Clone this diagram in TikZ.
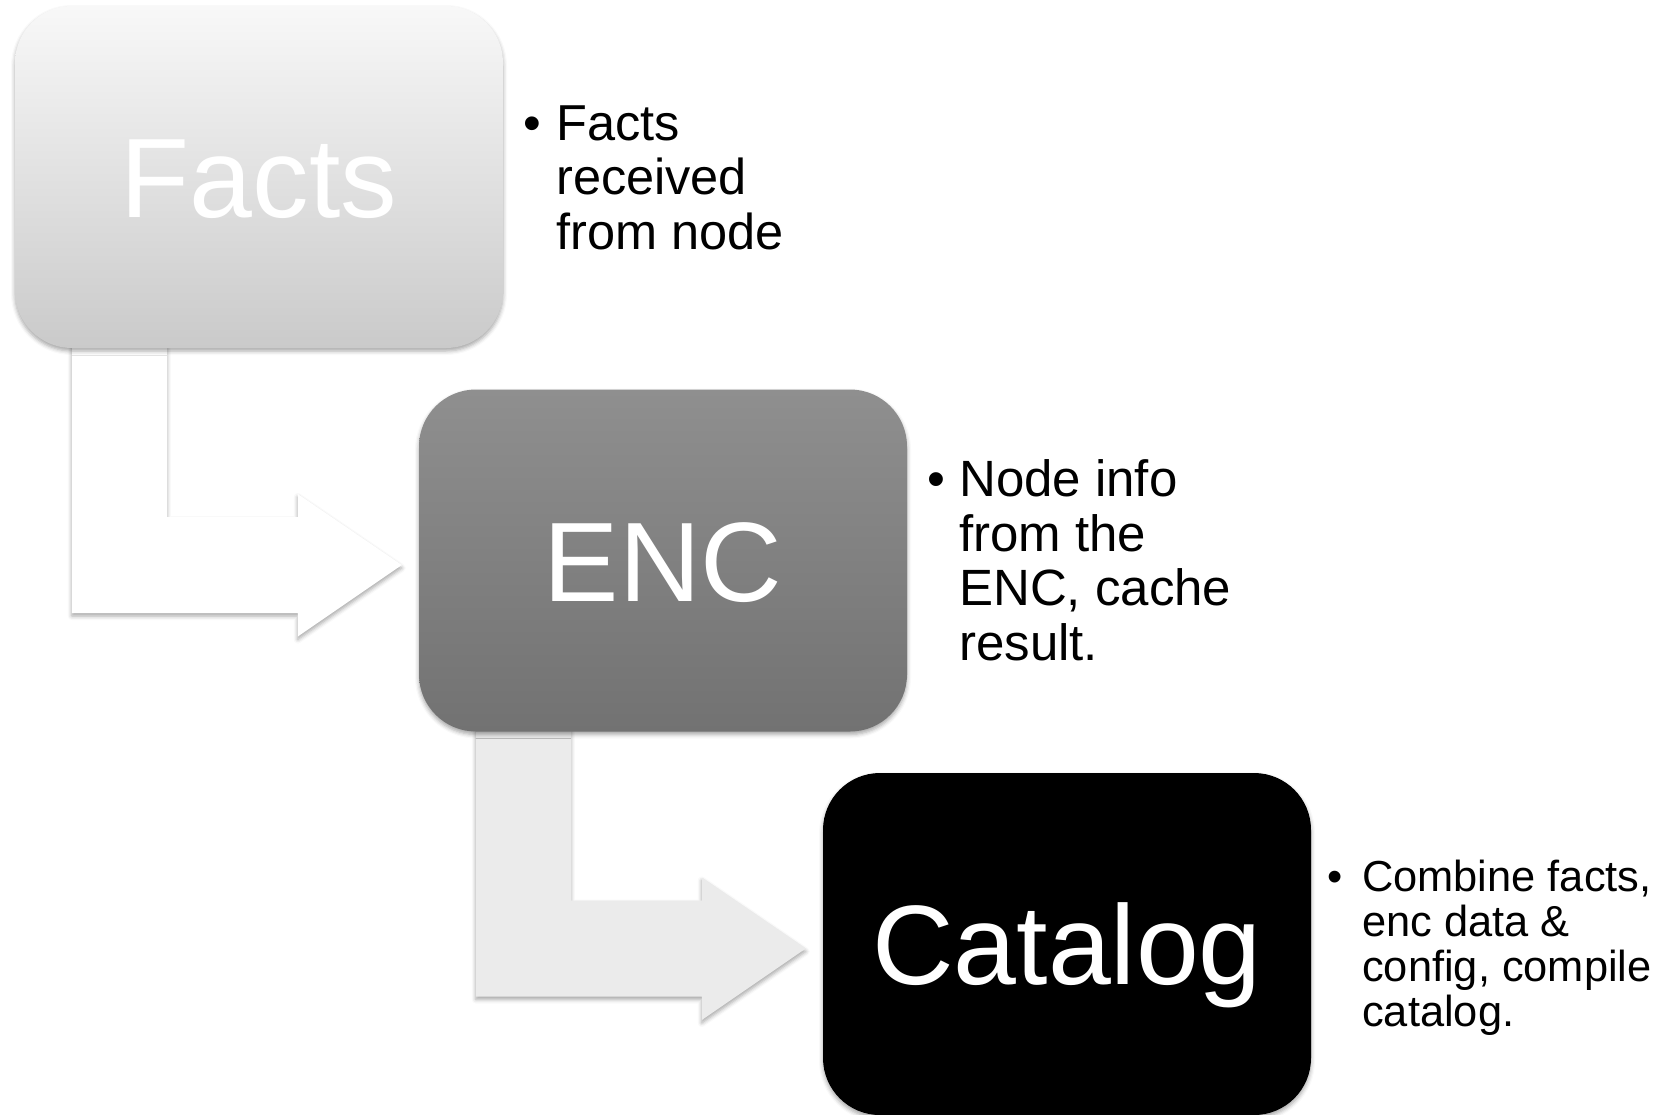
\documentclass[tikz,border=0pt]{standalone}
\usepackage{fontspec}
\setmainfont{Liberation Sans}
\usetikzlibrary{calc,shadows.blur}

\definecolor{factsTop}{HTML}{F8F8F8}
\definecolor{factsBot}{HTML}{CACACA}
\definecolor{encTop}{HTML}{8F8F8F}
\definecolor{encBot}{HTML}{727272}
\definecolor{flowGrey}{HTML}{EBEBEB}

\pgfdeclarelayer{background}
\pgfsetlayers{background,main}

\tikzset{
  softshadow/.style={blur shadow={shadow xshift=0pt, shadow yshift=-3pt,
      shadow blur radius=4pt, shadow opacity=35}},
  stage/.style={rectangle, rounded corners=57pt, minimum width=488pt,
      minimum height=342pt, inner sep=0pt, text=white,
      font=\fontsize{113}{113}\selectfont, text height=81pt, text depth=0pt,
      softshadow},
  note/.style={anchor=base west, inner sep=0pt, text=black},
  flow/.style={softshadow},
}

% bent block arrow: leaves from under #1, turns right and points at #2
\newcommand\bentflow[3]{%
  \coordinate (#1-stem) at ($(#1.south west)+(57,-50)$);
  \coordinate (#2-tip) at ($(#2.west)+(-17,4.5)$);
  \path[flow,#3] (#1-stem) -- ++(95,0)
    |- ($(#2-tip)+(-104,-48)$) -- ++(0,-23) -- (#2-tip)
    -- ++(-104,71.5) -- ++(0,-23.5) -| (#1-stem) -- cycle;%
}

\begin{document}
\begin{tikzpicture}[x=1pt,y=-1pt]
  \useasboundingbox (0,0) rectangle (1659,1114);
  \clip (0,0) rectangle (1659,1114);

  % process stages
  \node[stage, top color=factsTop, bottom color=factsBot] (facts) at (259,177) {Facts};
  \node[stage, top color=encTop, bottom color=encBot] (enc) at (663,560.5) {ENC};
  \node[stage, fill=black] (cat) at (1067,944) {Catalog};

  % arrows between the stages, kept behind them
  \begin{pgfonlayer}{background}
    \bentflow{facts}{enc}{fill=white}
    \bentflow{enc}{cat}{fill=flowGrey}
  \end{pgfonlayer}

  % descriptions
  \node[note, font=\fontsize{50.5}{54.5}\selectfont] (factsnote) at (523,140)
    {\begin{tabular}[t]{@{}p{33pt}@{}l@{}}
      \textbullet & Facts\\
                  & received\\
                  & from node
     \end{tabular}};
  \node[note, font=\fontsize{51}{54.5}\selectfont] (encnote) at (927,496.5)
    {\begin{tabular}[t]{@{}p{32pt}@{}l@{}}
      \textbullet & Node info\\
                  & from the\\
                  & ENC, cache\\
                  & result.
     \end{tabular}};
  \node[note, font=\fontsize{43.4}{45.2}\selectfont] (catnote) at (1327,891)
    {\begin{tabular}[t]{@{}p{35pt}@{}l@{}}
      \textbullet & Combine facts,\\
                  & enc data \&\\
                  & config, compile\\
                  & catalog.
     \end{tabular}};
\end{tikzpicture}
\end{document}
